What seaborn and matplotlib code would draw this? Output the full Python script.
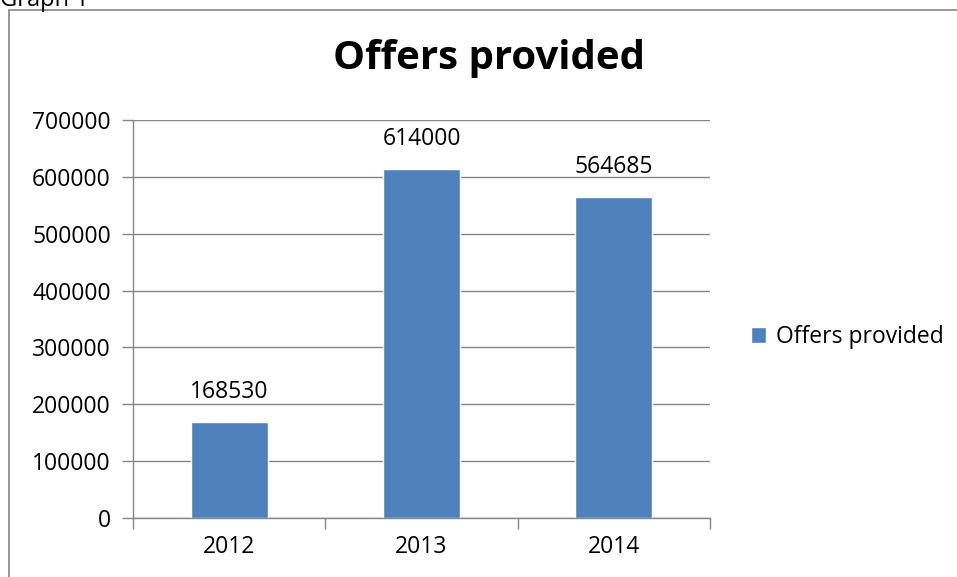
import matplotlib
matplotlib.use("Agg")
import matplotlib.pyplot as plt
import matplotlib.patches as mpatches
import seaborn as sns
import pandas as pd

years = ["2012", "2013", "2014"]
offers = [168530, 614000, 564685]
series_name = "Offers provided"
title = "Offers provided"

sns.set_theme(style="white")
plt.rcParams['font.family'] = ['Open Sans', 'DejaVu Sans']
plt.rcParams['text.color'] = 'black'
plt.rcParams['xtick.color'] = 'black'
plt.rcParams['ytick.color'] = 'black'

df = pd.DataFrame({"year": years, "value": offers})

fig = plt.figure(figsize=(9.57, 5.77), dpi=100)
ax = fig.add_axes([133/957, 1-518/577, (710-133)/957, (518-120)/577])

sns.barplot(data=df, x="year", y="value", color="#4F81BD", width=0.4, ax=ax,
            saturation=1, label=series_name)

fs = 16.5
ax.set_ylim(0, 700000)
ax.set_xlim(-0.5, 2.5)
ax.set_yticks(range(0, 700001, 100000))
ax.set_yticklabels([str(v) for v in range(0, 700001, 100000)], fontsize=fs)
ax.set_xlabel("")
ax.set_ylabel("")
ax.tick_params(axis='x', which='major', length=0, labelsize=fs, pad=12, labelcolor='black')
ax.tick_params(axis='y', which='major', length=8, width=1, color='#868686', labelsize=fs,
               pad=8, direction='out', left=True, labelcolor='black')
ax.set_xticks([-0.5, 0.5, 1.5, 2.5], minor=True)
ax.tick_params(axis='x', which='minor', length=8, width=1, color='#868686', direction='out', bottom=True)
ax.grid(axis='y', color='#868686', linewidth=1)
ax.set_axisbelow(True)
for s in ['top', 'right']:
    ax.spines[s].set_visible(False)
for s in ['left', 'bottom']:
    ax.spines[s].set_color('#868686')
    ax.spines[s].set_linewidth(1)

for i, v in enumerate(offers):
    ax.annotate(str(v), (i, v), xytext=(0, 13), textcoords='offset points',
                ha='center', va='bottom', fontsize=fs, color='black')

fig.suptitle(title, x=489/957, y=1-58/577, va='center', fontsize=29,
             fontweight='bold', color='black')

leg = ax.legend(loc='center left', bbox_to_anchor=(730/957, 1-337/577),
                bbox_transform=fig.transFigure, frameon=False, fontsize=fs,
                handlelength=0.65, handleheight=0.65, handletextpad=0.45)
for t in leg.get_texts():
    t.set_color('black')

fig.patches.append(mpatches.Rectangle((9/957, -0.1), 1.2, 1 - 10/577 + 0.1,
                                      transform=fig.transFigure, fill=False,
                                      edgecolor='#868686', linewidth=1.2))
fig.text(0.0, 1 - 6/577, "Graph 1", ha='left', va='baseline', fontsize=17, color='black')

fig.savefig("out.png", dpi=100)
